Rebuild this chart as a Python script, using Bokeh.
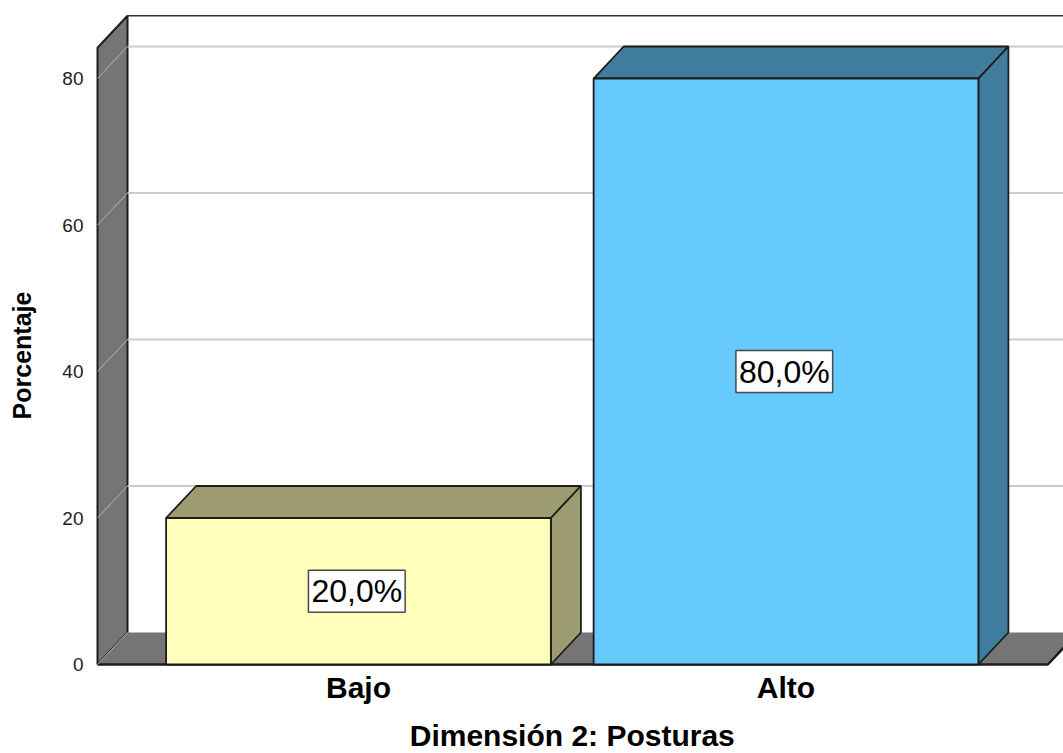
from math import pi

from bokeh.embed import file_html
from bokeh.models import FixedTicker, Label
from bokeh.plotting import figure
from bokeh.resources import INLINE

categories = ["Bajo", "Alto"]
percentages = [20.0, 80.0]
percent_labels = ["20,0%", "80,0%"]
y_ticks = [0, 20, 40, 60, 80]
front_colors = ["#FFFFBB", "#66CAFF"]
shade_colors = ["#9C9C70", "#3F7C9E"]

WALL = "#757575"
EDGE = "#1C1C1C"
GRID = "#CCCCCC"
FONT = "Liberation Sans"

# Extruded-box geometry, in axis units
BAR_WIDTH = 0.9
DEPTH_X = 0.0702
DEPTH_Y = 4.37
X_LEFT = -0.6105
X_RIGHT = 1.6125
Y_TOP = 84.2

# The frame fills the page; axes sit at fixed locations inside it
p = figure(
    width=1063, height=753,
    x_range=(-0.8374, 1.6491), y_range=(-12.15, 90.65),
    output_backend="svg", toolbar_location=None,
    min_border=0,
    background_fill_color="white", border_fill_color="white",
)
p.outline_line_color = None
p.grid.visible = False

# Side wall and floor of the 3D box
p.patch([X_LEFT, X_LEFT + DEPTH_X, X_LEFT + DEPTH_X, X_LEFT],
        [0, DEPTH_Y, Y_TOP + DEPTH_Y, Y_TOP],
        fill_color=WALL, line_color=EDGE, line_width=2)
p.patch([X_LEFT, X_LEFT + DEPTH_X, X_RIGHT + DEPTH_X, X_RIGHT],
        [0, DEPTH_Y, DEPTH_Y, 0],
        fill_color=WALL, line_color=None)
p.line([X_LEFT + DEPTH_X, X_RIGHT + DEPTH_X], [Y_TOP + DEPTH_Y] * 2,
       line_color="#333333", line_width=1.5)
p.line([X_LEFT, X_RIGHT, X_RIGHT + DEPTH_X], [0, 0, DEPTH_Y],
       line_color=EDGE, line_width=2.5)

# Gridlines: one segment across the back, one running down the side wall
for tick in y_ticks:
    if tick > 0:
        p.line([X_LEFT + DEPTH_X, X_RIGHT + DEPTH_X], [tick + DEPTH_Y] * 2,
               line_color=GRID, line_width=2)
    p.line([X_LEFT, X_LEFT + DEPTH_X], [tick, tick + DEPTH_Y],
           line_color="#B5B5B5", line_width=1)

# Bars: shaded top and side first, lit front face last
for i, pct in enumerate(percentages):
    x0, x1 = i - BAR_WIDTH / 2, i + BAR_WIDTH / 2
    p.patch([x0, x0 + DEPTH_X, x1 + DEPTH_X, x1], [pct, pct + DEPTH_Y, pct + DEPTH_Y, pct],
            fill_color=shade_colors[i], line_color=EDGE, line_width=1.8)
    p.patch([x1, x1 + DEPTH_X, x1 + DEPTH_X, x1], [0, DEPTH_Y, pct + DEPTH_Y, pct],
            fill_color=shade_colors[i], line_color=EDGE, line_width=1.8)
    p.patch([x0, x1, x1, x0], [0, 0, pct, pct],
            fill_color=front_colors[i], line_color=EDGE, line_width=1.8)
    p.add_layout(Label(
        x=i - 0.004, y=pct / 2, text=percent_labels[i],
        text_align="center", text_baseline="middle",
        text_font=FONT, text_font_size="32px", text_color="#000000",
        background_fill_color="white", border_line_color="#4A4A4A", border_line_width=1.5,
        padding=3,
    ))

# Axes
p.yaxis.fixed_location = X_LEFT
p.yaxis.ticker = FixedTicker(ticks=y_ticks)
p.yaxis.axis_line_color = None
p.yaxis.major_tick_line_color = None
p.yaxis.minor_tick_line_color = None
p.yaxis.major_label_standoff = 8
p.yaxis.major_label_text_font = FONT
p.yaxis.major_label_text_font_size = "19px"
p.yaxis.major_label_text_color = "#222222"

p.xaxis.fixed_location = 0
p.xaxis.ticker = FixedTicker(ticks=list(range(len(categories))))
p.xaxis.major_label_overrides = {i: c for i, c in enumerate(categories)}
p.xaxis.axis_line_color = None
p.xaxis.major_tick_line_color = None
p.xaxis.minor_tick_line_color = None
p.xaxis.major_label_standoff = 0
p.xaxis.major_label_text_font = FONT
p.xaxis.major_label_text_font_size = "30px"
p.xaxis.major_label_text_font_style = "bold"
p.xaxis.major_label_text_color = "#000000"

# Axis titles, centred on the box
p.add_layout(Label(
    x=21, y=398, x_units="screen", y_units="screen", text="Porcentaje",
    angle=pi / 2, text_align="center", text_baseline="middle",
    text_font=FONT, text_font_size="25px", text_font_style="bold", text_color="#000000",
))
p.add_layout(Label(
    x=0.5, y=-9.7, text="Dimensión 2: Posturas",
    text_align="center", text_baseline="middle",
    text_font=FONT, text_font_size="30px", text_font_style="bold", text_color="#000000",
))

open("out.html", "w").write(file_html(p, INLINE))
